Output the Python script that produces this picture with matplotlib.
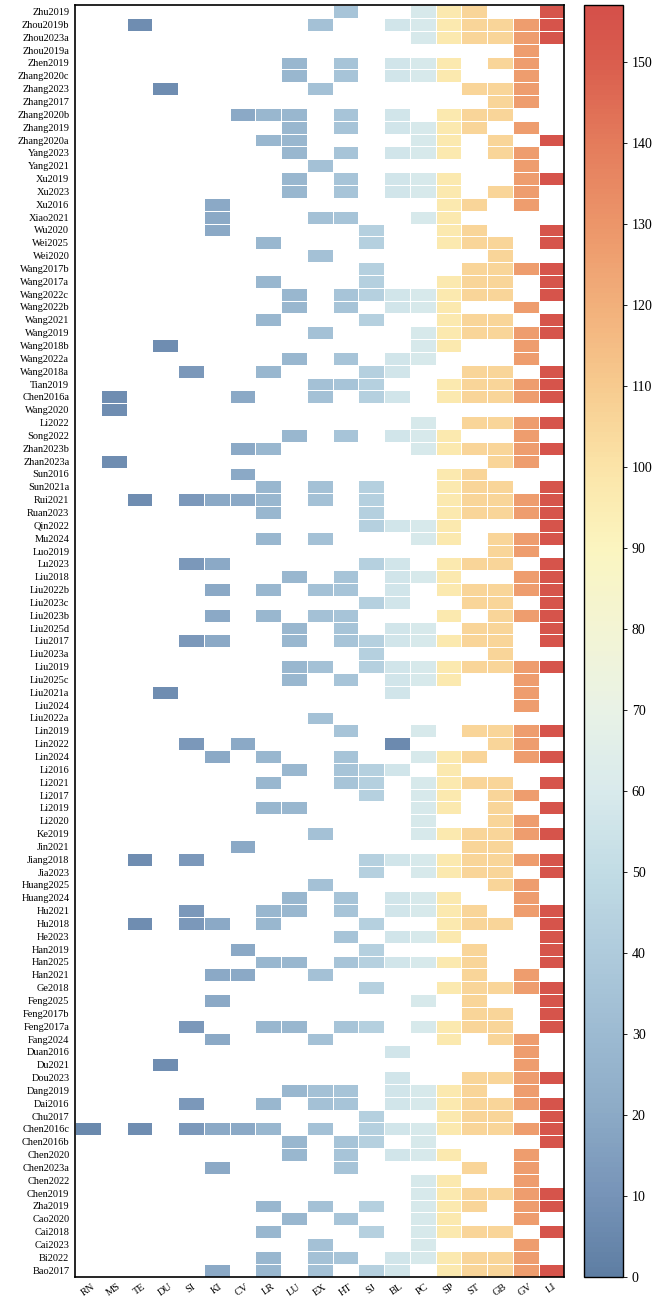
import numpy as np
import matplotlib
matplotlib.use("Agg")
import matplotlib.pyplot as plt
from matplotlib.colors import LinearSegmentedColormap

plt.rcParams["font.family"] = ["Liberation Serif", "DejaVu Serif"]

# Meridianos (columnas) y valor de color de cada columna
meridianos = ["RN", "MS", "TE", "DU", "SI", "KI", "CV", "LR", "LU", "EX",
              "HT", "SJ", "BL", "PC", "SP", "ST", "GB", "GV", "LI"]
valor_meridiano = [5, 7, 7, 7, 12, 20, 20, 28, 28, 34,
                   36, 43, 57, 59, 97, 106, 106, 127, 155]

# Estudios (filas, de arriba a abajo)
estudios = ["Zhu2019", "Zhou2019b", "Zhou2023a", "Zhou2019a", "Zhen2019", "Zhang2020c",
            "Zhang2023", "Zhang2017", "Zhang2020b", "Zhang2019", "Zhang2020a", "Yang2023",
            "Yang2021", "Xu2019", "Xu2023", "Xu2016", "Xiao2021", "Wu2020", "Wei2025",
            "Wei2020", "Wang2017b", "Wang2017a", "Wang2022c", "Wang2022b", "Wang2021",
            "Wang2019", "Wang2018b", "Wang2022a", "Wang2018a", "Tian2019", "Chen2016a",
            "Wang2020", "Li2022", "Song2022", "Zhan2023b", "Zhan2023a", "Sun2016",
            "Sun2021a", "Rui2021", "Ruan2023", "Qin2022", "Mu2024", "Luo2019", "Lu2023",
            "Liu2018", "Liu2022b", "Liu2023c", "Liu2023b", "Liu2025d", "Liu2017",
            "Liu2023a", "Liu2019", "Liu2025c", "Liu2021a", "Liu2024", "Liu2022a",
            "Lin2019", "Lin2022", "Lin2024", "Li2016", "Li2021", "Li2017", "Li2019",
            "Li2020", "Ke2019", "Jin2021", "Jiang2018", "Jia2023", "Huang2025",
            "Huang2024", "Hu2021", "Hu2018", "He2023", "Han2019", "Han2025", "Han2021",
            "Ge2018", "Feng2025", "Feng2017b", "Feng2017a", "Fang2024", "Duan2016",
            "Du2021", "Dou2023", "Dang2019", "Dai2016", "Chu2017", "Chen2016c",
            "Chen2016b", "Chen2020", "Chen2023a", "Chen2022", "Chen2019", "Zha2019",
            "Cao2020", "Cai2018", "Cai2023", "Bi2022", "Bao2017"]

# Meridianos presentes en cada estudio
presentes = [
    "HT PC SP ST LI",
    "TE EX BL PC SP ST GB GV LI",
    "PC SP ST GB GV LI",
    "GV",
    "LU HT BL PC SP GB GV",
    "LU HT BL PC SP GV",
    "DU EX ST GB GV",
    "GB GV",
    "CV LR LU HT BL SP ST GB",
    "LU HT BL PC SP ST GV",
    "LR LU PC SP GB LI",
    "LU HT BL PC SP GB GV",
    "EX GV",
    "LU HT BL PC SP GV LI",
    "LU HT BL PC SP GB GV",
    "KI SP ST GV",
    "KI EX HT PC SP",
    "KI SJ SP ST LI",
    "LR SJ SP ST GB LI",
    "EX GB",
    "SJ ST GB GV LI",
    "LR SJ SP ST GB LI",
    "LU HT SJ BL PC SP ST GB LI",
    "LU HT BL PC SP GV",
    "LR SJ SP ST GB LI",
    "EX PC SP ST GB GV LI",
    "DU PC SP GV",
    "LU HT BL PC GV",
    "SI LR SJ BL ST GB LI",
    "EX HT SJ SP ST GB GV LI",
    "MS CV EX SJ BL SP ST GB GV LI",
    "MS",
    "PC ST GB GV LI",
    "LU HT BL PC SP GV",
    "CV LR PC SP ST GB GV LI",
    "MS GB GV",
    "CV SP ST",
    "LR EX SJ SP ST GB LI",
    "TE SI KI CV LR EX SJ SP ST GB GV LI",
    "LR SJ SP ST GB GV LI",
    "SJ BL PC SP LI",
    "LR EX PC SP GB GV LI",
    "GB GV",
    "SI KI SJ BL SP ST GB LI",
    "LU HT BL PC SP GV LI",
    "KI LR EX HT BL SP ST GB GV LI",
    "SJ BL ST GB LI",
    "KI LR EX HT SP GB GV LI",
    "LU HT BL PC ST GB LI",
    "SI KI LU HT SJ BL PC SP ST GB LI",
    "SJ GB",
    "LU EX SJ BL PC SP ST GB GV LI",
    "LU HT BL PC SP GV",
    "DU BL GV",
    "GV",
    "EX",
    "HT PC ST GB GV LI",
    "SI CV BL GB GV",
    "KI LR HT PC SP ST GV LI",
    "LU HT SJ BL SP",
    "LR HT SJ PC SP ST GB LI",
    "SJ PC SP GB GV",
    "LR LU PC SP GB LI",
    "PC GB GV",
    "EX PC SP ST GB GV LI",
    "CV ST GB",
    "TE SI SJ BL PC SP ST GB GV LI",
    "SJ PC SP ST GB LI",
    "EX GB GV",
    "LU HT BL PC SP GV",
    "SI LR LU HT BL PC SP ST GV LI",
    "TE SI KI LR SJ SP ST GB LI",
    "HT BL PC SP LI",
    "CV SJ ST LI",
    "LR LU HT SJ BL PC SP ST LI",
    "KI CV EX ST GV",
    "SJ SP ST GB GV LI",
    "KI PC ST LI",
    "ST GB LI",
    "SI LR LU HT SJ PC SP ST GB LI",
    "KI EX SP GB GV",
    "BL GV",
    "DU GV",
    "BL ST GB GV LI",
    "LU EX HT BL PC SP ST GV",
    "SI LR EX HT BL PC SP ST GB GV LI",
    "SJ SP ST GB LI",
    "RN TE SI KI CV LR EX SJ BL PC SP ST GB GV LI",
    "LU HT SJ PC LI",
    "LU HT BL PC SP GV",
    "KI HT ST GV",
    "PC SP GV",
    "PC SP ST GB GV LI",
    "LR EX SJ PC SP ST GV LI",
    "LU HT PC SP GV",
    "LR SJ PC SP ST GB LI",
    "EX PC GV",
    "LR EX HT BL PC SP ST GB GV",
    "KI LR EX SJ BL SP ST GB GV LI",
]

# Celdas con un valor distinto al de su columna
excepciones = [("Lin2022", "BL", 6)]

# Construir la matriz de valores (NaN = vacío)
matriz = np.full((len(estudios), len(meridianos)), np.nan)
for i, fila in enumerate(presentes):
    for m in fila.split():
        j = meridianos.index(m)
        matriz[i, j] = valor_meridiano[j]
for est, m, v in excepciones:
    matriz[estudios.index(est), meridianos.index(m)] = v

# Mapa de color (azul pizarra -> amarillo pálido -> rojo)
anclas = [0, 10, 20, 30, 40, 50, 60, 70, 80, 90, 100, 110, 120, 130, 140, 150, 157]
colores = ["#5e7ea3", "#7794b8", "#8caac6", "#9dbbd2", "#afcbdc", "#c2dce5",
           "#d9eaec", "#e9f2e6", "#f3f4d4", "#fbf5c0", "#fbe4a8", "#f7cb8f",
           "#f2b07b", "#ec966a", "#e47c5c", "#da5e4e", "#d4504a"]
vmax = anclas[-1]
cmap = LinearSegmentedColormap.from_list(
    "meridianos", [(a / vmax, c) for a, c in zip(anclas, colores)])

fig = plt.figure(figsize=(6.64, 13.0), dpi=100)
ax = fig.add_axes([0.113, 0.018, 0.737, 0.978])
cax = fig.add_axes([0.880, 0.018, 0.058, 0.978])

datos = np.ma.masked_invalid(matriz)
malla = ax.pcolormesh(datos, cmap=cmap, vmin=0, vmax=vmax,
                      edgecolors="white", linewidth=0.6)
ax.set_xlim(0, len(meridianos))
ax.set_ylim(len(estudios), 0)

ax.set_xticks(np.arange(len(meridianos)) + 0.5)
ax.set_xticklabels(meridianos, rotation=35, ha="center", fontsize=7.5)
ax.set_yticks(np.arange(len(estudios)) + 0.5)
ax.set_yticklabels(estudios, fontsize=7.5)
ax.tick_params(length=0, pad=4)
for s in ax.spines.values():
    s.set_linewidth(1.2)
    s.set_color("black")

cb = fig.colorbar(malla, cax=cax)
cb.set_ticks(np.arange(0, 151, 10))
cb.ax.tick_params(labelsize=10, length=3, width=0.6)
cb.outline.set_linewidth(1.0)
cb.outline.set_edgecolor("black")

fig.savefig("out.png", dpi=100)
